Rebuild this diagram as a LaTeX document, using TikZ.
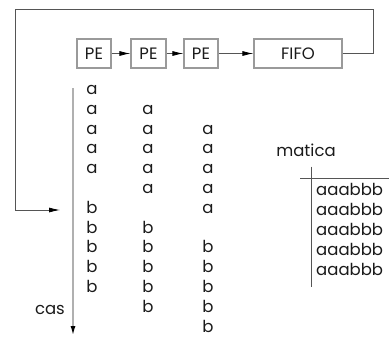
\documentclass[tikz,border=0pt]{standalone}
\usepackage{fontspec}
\setmainfont{Poppins}
\usetikzlibrary{arrows.meta}
\definecolor{boxgray}{HTML}{9A9A9A}
\definecolor{linegray}{HTML}{555555}
\definecolor{axisgray}{HTML}{B0B0B0}
\definecolor{inkgray}{HTML}{1A1A1A}
\tikzset{
  txt/.style={font=\fontsize{16.5}{18}\selectfont, text=inkgray, inner sep=0pt},
  stage/.style={txt, draw=boxgray, line width=1.2pt, minimum height=29pt, inner sep=0pt},
  link/.style={draw=linegray, line width=0.8pt, -{Latex[length=11pt,width=5pt,color=black]}},
  feed/.style={draw=linegray, line width=0.8pt},
  timeaxis/.style={draw=axisgray, line width=1.8pt, -{Latex[length=10pt,width=5pt,color=black]}},
  rule/.style={draw=linegray, line width=0.7pt},
  sym/.style={txt, anchor=base}
}
\begin{document}
\begin{tikzpicture}[x=1pt,y=-1pt]
\useasboundingbox (0,0) rectangle (389,338);
% pipeline of processing elements feeding a FIFO
\node[stage, minimum width=34pt] (pe1) at (94,53.5) {PE};
\node[stage, minimum width=35pt] (pe2) at (148.5,53.5) {PE};
\node[stage, minimum width=34pt] (pe3) at (201,53.5) {PE};
\node[stage, minimum width=88pt] (fifo) at (298,53.5) {FIFO};
\draw[link] (pe1) -- (pe2);
\draw[link] (pe2) -- (pe3);
\draw[link] (pe3) -- (fifo);
% feedback loop from the FIFO back to the input stream
\coordinate (fbin) at (60,210);
\draw[feed] (fifo.east) -- (373,53.5) -- (373,9) -- (15,9) -- (15,210);
\draw[link] (15,210) -- (fbin);
% time axis
\coordinate (axtop) at (73,88);
\coordinate (axbot) at (73,336);
\draw[timeaxis] (axtop) -- (axbot);
\node[sym, anchor=base east] (cas) at (65,314) {cas};
% data streams
\foreach \r in {0,...,4} \node[sym] (ca\r) at (92,94.5+19.8*\r) {a};
\foreach \r in {6,...,10} \node[sym] (cb\r) at (92,94.5+19.8*\r) {b};
\foreach \r in {1,...,5} \node[sym] (da\r) at (148,94.5+19.8*\r) {a};
\foreach \r in {7,...,11} \node[sym] (db\r) at (148,94.5+19.8*\r) {b};
\foreach \r in {2,...,6} \node[sym] (ea\r) at (208,94.5+19.8*\r) {a};
\foreach \r in {8,...,12} \node[sym] (eb\r) at (208,94.5+19.8*\r) {b};
% matrix
\node[sym] (mat) at (306,156) {matica};
\coordinate (hl) at (300,178.3);
\coordinate (hr) at (389,178.3);
\coordinate (vt) at (311.5,166.5);
\coordinate (vb) at (311.5,287);
\draw[rule] (hl) -- (hr);
\draw[rule] (vt) -- (vb);
\foreach \r in {0,...,4} \node[sym, anchor=base west] (row\r) at (316,195+20*\r) {aaabbb};
\end{tikzpicture}
\end{document}
